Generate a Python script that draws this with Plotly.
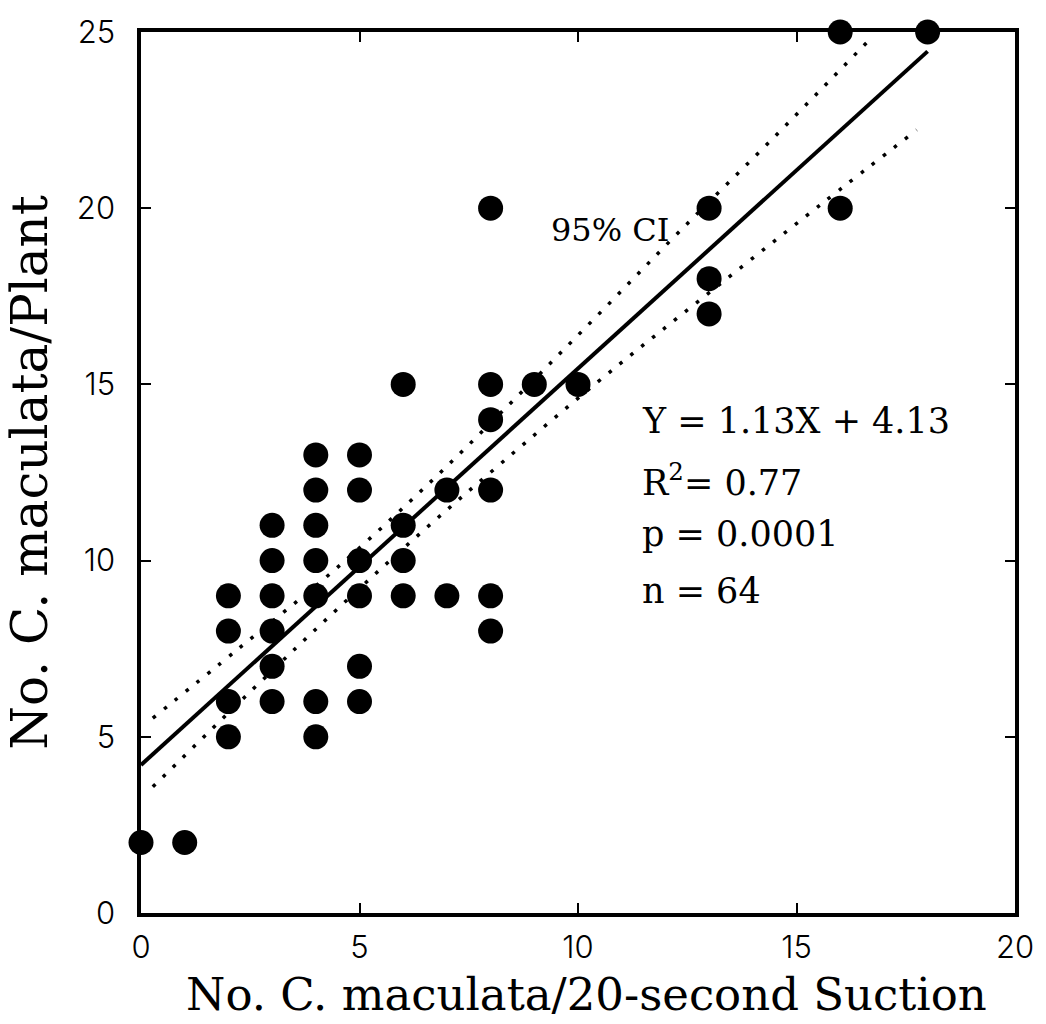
import plotly.graph_objects as go

# Observed points (suction count, plant count)
suction = [0, 1,
           2, 2, 2, 2,
           3, 3, 3, 3, 3, 3,
           4, 4, 4, 4, 4, 4, 4,
           5, 5, 5, 5, 5, 5,
           6, 6, 6, 6,
           7, 7,
           8, 8, 8, 8, 8, 8,
           9, 10,
           13, 13, 13,
           16, 16, 18]
plant = [2, 2,
         9, 8, 6, 5,
         11, 10, 9, 8, 7, 6,
         13, 12, 11, 10, 9, 6, 5,
         13, 12, 10, 9, 7, 6,
         15, 11, 10, 9,
         12, 9,
         20, 15, 14, 12, 9, 8,
         15, 15,
         20, 18, 17,
         25, 20, 25]

# Regression line
fit_x = [0, 18]
fit_y = [4.2, 24.45]

# 95% CI bands
ci_up_x = [0.27, 2.21, 4.47, 6.69, 8.57, 10.44, 12.33, 14.50, 16.70]
ci_up_y = [5.53, 7.48, 9.78, 12.31, 14.61, 16.95, 19.35, 22.03, 24.82]
ci_lo_x = [0.27, 2.56, 4.47, 6.35, 8.24, 10.46, 12.36, 15.54, 17.75]
ci_lo_y = [3.58, 6.35, 8.60, 10.73, 12.76, 15.08, 16.97, 20.09, 22.22]

x_ticks = [0, 5, 10, 15, 20]
y_ticks = [0, 5, 10, 15, 20, 25]

x_title = "No. C. maculata/20-second Suction"
y_title = "No. C. maculata/Plant"
stats_lines = ["Y = 1.13X + 4.13", "R<sup>2</sup>= 0.77", "p = 0.0001", "n = 64"]

SERIF = "DejaVu Serif"
SANS = "Inter"

fig = go.Figure()
for cx, cy in [(ci_up_x, ci_up_y), (ci_lo_x, ci_lo_y)]:
    fig.add_trace(go.Scatter(x=cx, y=cy, mode="lines", line_shape="spline",
                             line=dict(color="black", width=3.5, dash="3.5px,10.5px"),
                             hoverinfo="skip", showlegend=False, cliponaxis=False))
fig.add_trace(go.Scatter(x=fit_x, y=fit_y, mode="lines",
                         line=dict(color="black", width=4),
                         showlegend=False, cliponaxis=False))
fig.add_trace(go.Scatter(x=suction, y=plant, mode="markers",
                         marker=dict(color="black", size=25, line=dict(width=0)),
                         showlegend=False, cliponaxis=False))

axis_common = dict(showline=True, linecolor="black", linewidth=3.5, mirror="ticks",
                   ticks="inside", ticklen=10, tickwidth=1.5, tickcolor="black",
                   showgrid=False, zeroline=False,
                   tickfont=dict(family=SANS, size=31, color="black", weight=300))

fig.update_xaxes(range=[0, 20], tickvals=x_ticks, ticktext=[str(v) for v in x_ticks],
                 ticklabelstandoff=4, **axis_common)
fig.update_yaxes(range=[0, 25], tickvals=y_ticks, ticktext=[str(v) for v in y_ticks],
                 ticklabelstandoff=16,
                 title=dict(text=y_title,
                            font=dict(family=SERIF, size=50, color="black"), standoff=14),
                 **axis_common)

ann = [dict(x=0.51, y=-0.093, xref="paper", yref="paper", text=x_title, showarrow=False,
            xanchor="center", yanchor="middle",
            font=dict(family=SERIF, size=45, color="black")),
       dict(x=9.33, y=19.38, xref="x", yref="y", text="95% CI", showarrow=False,
            xanchor="left", yanchor="middle",
            font=dict(family=SERIF, size=32, color="black"))]
stat_y = [13.96, 12.3, 10.75, 9.15]
for txt, yy in zip(stats_lines, stat_y):
    ann.append(dict(x=11.42, y=yy, xref="x", yref="y", text=txt, showarrow=False,
                    xanchor="left", yanchor="middle",
                    font=dict(family=SERIF, size=35, color="black")))

fig.update_layout(width=1046, height=1024, margin=dict(l=141, r=26, t=32, b=111),
                  paper_bgcolor="white", plot_bgcolor="white", annotations=ann)

fig.write_html("out.html")
